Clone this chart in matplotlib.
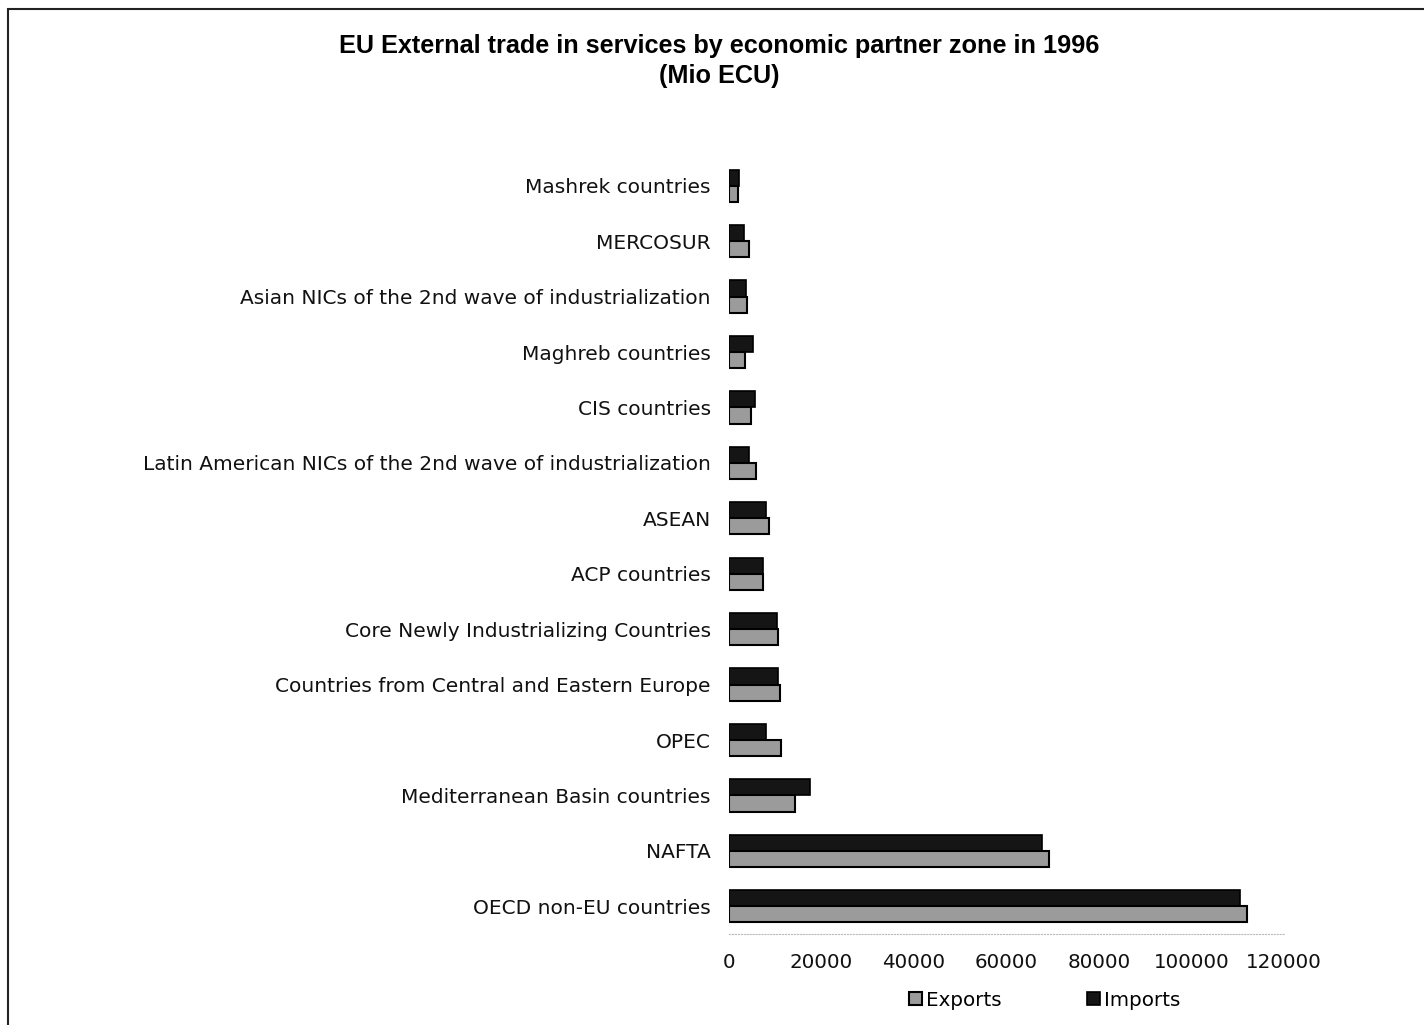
import matplotlib
matplotlib.use("Agg")
import matplotlib.pyplot as plt
import numpy as np
from matplotlib.patches import Rectangle

categories = [
    "Mashrek countries",
    "MERCOSUR",
    "Asian NICs of the 2nd wave of industrialization",
    "Maghreb countries",
    "CIS countries",
    "Latin American NICs of the 2nd wave of industrialization",
    "ASEAN",
    "ACP countries",
    "Core Newly Industrializing Countries",
    "Countries from Central and Eastern Europe",
    "OPEC",
    "Mediterranean Basin countries",
    "NAFTA",
    "OECD non-EU countries",
]
imports = [2200, 3200, 3600, 5200, 5600, 4400, 8100, 7300, 10300, 10500, 8100, 17500, 67700, 110400]
exports = [2000, 4300, 3900, 3400, 4700, 5800, 8600, 7400, 10700, 11000, 11300, 14200, 69100, 112000]
xticks = [0, 20000, 40000, 60000, 80000, 100000, 120000]

plt.rcParams['font.family'] = ['DejaVu Sans']

fig = plt.figure(figsize=(14.24, 10.25), dpi=100)
fig.patch.set_facecolor('white')
ax = fig.add_axes([729/1424, 91/1025, (1284-729)/1424, (867-91)/1025])

y = np.arange(len(categories))
h = 0.29
ax.barh(y - h/2, imports, height=h, color='#151515', edgecolor='black', linewidth=1.2, label='Imports')
ax.barh(y + h/2, exports, height=h, color='#9b9b9b', edgecolor='black', linewidth=1.5, label='Exports')

ax.set_ylim(len(categories) - 0.5, -0.5)
ax.set_xlim(0, 120000)
ax.set_yticks(y)
ax.set_yticklabels(categories, fontsize=14.5, color='#111111')
ax.set_xticks(xticks)
ax.set_xticklabels([str(t) for t in xticks], fontsize=14.3, color='#111111')
ax.tick_params(axis='y', length=0, pad=13)
ax.tick_params(axis='x', length=0, pad=14)
for s in ['top', 'right', 'left']:
    ax.spines[s].set_visible(False)
ax.spines['bottom'].set_linestyle(':')
ax.spines['bottom'].set_color('#bbbbbb')
ax.spines['bottom'].set_linewidth(0.8)

title_font = ['Liberation Sans', 'DejaVu Sans']
fig.text(719/1424, 1 - 46/1025, "EU External trade in services by economic partner zone in 1996",
         ha='center', va='center', fontsize=18.2, fontweight='bold', family=title_font)
fig.text(719/1424, 1 - 76/1025, "(Mio ECU)", ha='center', va='center', fontsize=18.2,
         fontweight='bold', family=title_font)

handles, labels = ax.get_legend_handles_labels()
leg = fig.legend([handles[1], handles[0]], [labels[1], labels[0]], loc='center',
                 bbox_to_anchor=(1045/1424, 1 - 1000/1025), ncol=2, frameon=False,
                 fontsize=14.3, handlelength=0.65, handleheight=0.65, handletextpad=0.2,
                 columnspacing=4.3)

fig.add_artist(Rectangle((8/1424, -0.01), 1.02, 1 - 9/1025 + 0.01, transform=fig.transFigure,
                         fill=False, edgecolor='#222222', linewidth=1.5))

fig.savefig("out.png", dpi=100)
